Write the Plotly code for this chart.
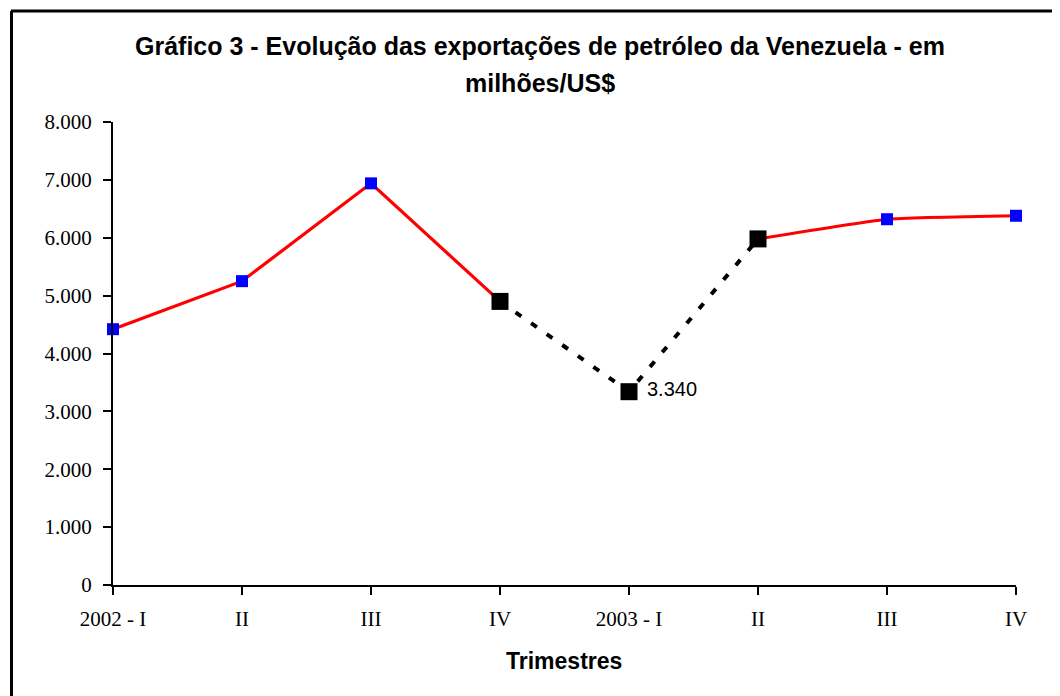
import plotly.graph_objects as go

categories = ["2002 - I", "II", "III", "IV", "2003 - I", "II", "III", "IV"]
values = [4420, 5250, 6940, 4900, 3340, 5980, 6320, 6380]
y_ticks = [0, 1000, 2000, 3000, 4000, 5000, 6000, 7000, 8000]
y_tick_labels = ["0", "1.000", "2.000", "3.000", "4.000", "5.000", "6.000", "7.000", "8.000"]
title_line1 = "<b>Gráfico 3 - Evolução das exportações de petróleo da Venezuela - em</b>"
title_line2 = "<b>milhões/US$</b>"
x_title = "<b>Trimestres</b>"
label_text = "3.340"

xs = list(range(len(categories)))

# the page body has an 8px margin; work in figure coordinates = screen - 8
OFF = 8
W, H = 1060 - OFF, 696 - OFF
L, R, T, B = 113 - OFF, 1016 - OFF, 122 - OFF, 585 - OFF

def px(x):
    return (x - OFF - L) / (R - L)

def py(y):
    return (B - (y - OFF)) / (B - T)

fig = go.Figure()

fig.add_trace(go.Scatter(
    x=xs[3:6], y=values[3:6], mode="lines",
    line=dict(color="black", width=4, dash="7px,12px"),
    hoverinfo="skip", showlegend=False, cliponaxis=False))
fig.add_trace(go.Scatter(
    x=xs[0:4], y=values[0:4], mode="lines",
    line=dict(color="#ff0000", width=3.2),
    showlegend=False, cliponaxis=False))
fig.add_trace(go.Scatter(
    x=xs[5:8], y=values[5:8], mode="lines",
    line=dict(color="#ff0000", width=3.2, shape="spline", smoothing=0.4),
    showlegend=False, cliponaxis=False))
blue_idx = [0, 1, 2, 6, 7]
fig.add_trace(go.Scatter(
    x=[xs[i] for i in blue_idx], y=[values[i] for i in blue_idx], mode="markers",
    marker=dict(symbol="square", size=12, color="#0000ff", line=dict(width=0)),
    showlegend=False, cliponaxis=False))
black_idx = [3, 4, 5]
fig.add_trace(go.Scatter(
    x=[xs[i] for i in black_idx], y=[values[i] for i in black_idx], mode="markers",
    marker=dict(symbol="square", size=17, color="black", line=dict(width=0)),
    showlegend=False, cliponaxis=False))

fig.add_annotation(x=xs[4], y=values[4], text=label_text, xref="x", yref="y",
                   xanchor="left", yanchor="middle", xshift=16, yshift=3, showarrow=False,
                   font=dict(family="Liberation Sans, Arial", size=20, color="black"))

fig.add_annotation(x=px(540), y=py(46), xref="paper", yref="paper",
                   text=title_line1, showarrow=False, xanchor="center", yanchor="middle",
                   font=dict(family="Liberation Sans, Arial", size=25, color="black"))
fig.add_annotation(x=px(540), y=py(83), xref="paper", yref="paper",
                   text=title_line2, showarrow=False, xanchor="center", yanchor="middle",
                   font=dict(family="Liberation Sans, Arial", size=25, color="black"))

fig.add_annotation(x=px(564), y=py(661), xref="paper", yref="paper",
                   text=x_title, showarrow=False, xanchor="center", yanchor="middle",
                   font=dict(family="Liberation Sans, Arial", size=23, color="black"))

# outer frame (top and left visible)
fig.add_shape(type="line", xref="paper", yref="paper",
              x0=px(11), x1=px(1080), y0=py(11), y1=py(11),
              line=dict(color="black", width=3))
fig.add_shape(type="line", xref="paper", yref="paper",
              x0=px(11.5), x1=px(11.5), y0=py(11), y1=py(720),
              line=dict(color="black", width=3))

fig.update_layout(
    width=W, height=H,
    margin=dict(l=L, r=W - R, t=T, b=H - B),
    paper_bgcolor="white", plot_bgcolor="white",
    showlegend=False,
    font=dict(family="Liberation Serif, Times New Roman", size=21, color="black"),
)
fig.update_xaxes(
    range=[0, 7], tickmode="array", tickvals=xs, ticktext=categories,
    showgrid=False, zeroline=False, showline=True, linecolor="black", linewidth=2,
    ticks="outside", ticklen=8, tickwidth=2, tickcolor="black", ticklabelstandoff=6,
    tickfont=dict(family="Liberation Serif, Times New Roman", size=21, color="black"),
    fixedrange=True,
)
fig.update_yaxes(
    range=[0, 8000], tickmode="array", tickvals=y_ticks, ticktext=y_tick_labels,
    showgrid=False, zeroline=False, showline=True, linecolor="black", linewidth=2,
    ticks="outside", ticklen=8, tickwidth=2, tickcolor="black", ticklabelstandoff=7,
    tickfont=dict(family="Liberation Serif, Times New Roman", size=21, color="black"),
    fixedrange=True,
)

fig.write_html("out.html")
